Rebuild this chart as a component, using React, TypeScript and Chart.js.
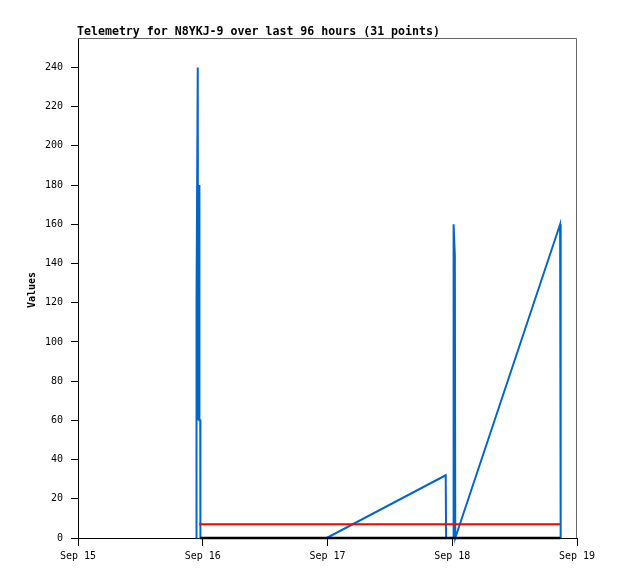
import React, { useEffect, useRef } from "react";
import { Chart, registerables } from "chart.js";

Chart.register(...registerables);

const titleText = "Telemetry for N8YKJ-9 over last 96 hours (31 points)";
const yTitle = "Values";
const dayLabels = ["Sep 15", "Sep 16", "Sep 17", "Sep 18", "Sep 19"];
const dayHours = [0, 24, 48, 72, 96];
const yTickValues = [0, 20, 40, 60, 80, 100, 120, 140, 160, 180, 200, 220, 240];

// hours since Sep 15 00:00
const blueHours = [22.78, 22.8, 23.04, 23.1, 23.3, 23.36, 23.52, 23.55, 47.85, 70.74, 70.82, 72.22, 72.26, 72.5, 72.58, 92.75, 92.82, 92.9];
const blueValues = [0, 120, 240, 60, 180, 60, 60, 0, 0, 32, 0, 0, 160, 144, 0, 160, 80, 0];

const redHours = [23.3, 92.75];
const redValues = [7, 7];

const blackHours = [23.5, 92.75];
const blackValues = [0, 0];

const toPoints = (xs: number[], ys: number[]) => xs.map((x, i) => ({ x, y: ys[i] }));

const decorPlugin = {
  id: "decor",
  afterDraw(chart: any) {
    const { ctx, chartArea } = chart;
    ctx.save();
    ctx.strokeStyle = "#666666";
    ctx.lineWidth = 1;
    ctx.beginPath();
    ctx.moveTo(chartArea.left, chartArea.top + 0.5);
    ctx.lineTo(chartArea.right - 0.5, chartArea.top + 0.5);
    ctx.lineTo(chartArea.right - 0.5, chartArea.bottom);
    ctx.stroke();

    ctx.fillStyle = "#000";
    ctx.font = "bold 11.6px 'DejaVu Sans Mono', monospace";
    ctx.textAlign = "left";
    ctx.textBaseline = "alphabetic";
    ctx.fillText(titleText, 77, 35);

    ctx.translate(35, (chartArea.top + chartArea.bottom) / 2 + 2);
    ctx.rotate(-Math.PI / 2);
    ctx.font = "bold 10px 'DejaVu Sans Mono', monospace";
    ctx.textAlign = "center";
    ctx.textBaseline = "alphabetic";
    ctx.fillText(yTitle, 0, 0);
    ctx.restore();
  },
};

export default function App() {
  const ref = useRef<HTMLCanvasElement | null>(null);
  useEffect(() => {
    if (!ref.current) return;
    const chart = new Chart(ref.current, {
      type: "line",
      data: {
        datasets: [
          {
            data: toPoints(blueHours, blueValues),
            borderColor: "#0066CC",
            borderWidth: 2,
            pointRadius: 0,
            tension: 0,
            order: 3,
            clip: false as any,
          },
          {
            data: toPoints(redHours, redValues),
            borderColor: "#FF0000",
            borderWidth: 2,
            pointRadius: 0,
            order: 2,
            clip: false as any,
          },
          {
            data: toPoints(blackHours, blackValues),
            borderColor: "#000000",
            borderWidth: 2.5,
            pointRadius: 0,
            order: 1,
            clip: false as any,
          },
        ],
      },
      options: {
        responsive: false,
        animation: false,
        parsing: false as any,
        normalized: true,
        layout: { padding: { left: 0, right: 41, top: 38, bottom: 0 } },
        plugins: { legend: { display: false }, tooltip: { enabled: false }, title: { display: false } },
        scales: {
          x: {
            type: "linear",
            min: 0,
            max: 96,
            afterFit(scale: any) {
              scale.height = 41;
            },
            afterBuildTicks(scale: any) {
              scale.ticks = dayHours.map((v) => ({ value: v }));
            },
            grid: { drawOnChartArea: false, drawTicks: true, tickLength: 8, tickColor: "#000", tickWidth: 1 },
            border: { display: true, color: "#000", width: 1 },
            ticks: {
              color: "#000",
              padding: 4,
              maxRotation: 0,
              autoSkip: false,
              font: { family: "'DejaVu Sans Mono', monospace", size: 10 },
              callback: (v: any) => {
                const i = dayHours.indexOf(Number(v));
                return i >= 0 ? dayLabels[i] : "";
              },
            },
          },
          y: {
            type: "linear",
            min: 0,
            max: 255,
            afterFit(scale: any) {
              scale.width = 78;
            },
            afterBuildTicks(scale: any) {
              scale.ticks = yTickValues.map((v) => ({ value: v }));
            },
            grid: { drawOnChartArea: false, drawTicks: true, tickLength: 7, tickColor: "#000", tickWidth: 1 },
            border: { display: true, color: "#000", width: 1 },
            ticks: {
              color: "#000",
              padding: 8,
              font: { family: "'DejaVu Sans Mono', monospace", size: 10 },
              callback: (v: any) => String(v),
            },
          },
        },
      },
      plugins: [decorPlugin],
    });
    return () => chart.destroy();
  }, []);
  return (
    <div style={{ position: "absolute", left: 0, top: 0, width: 618, height: 579, background: "#fff" }}>
      <canvas ref={ref} width={618} height={579} style={{ display: "block" }} />
    </div>
  );
}
